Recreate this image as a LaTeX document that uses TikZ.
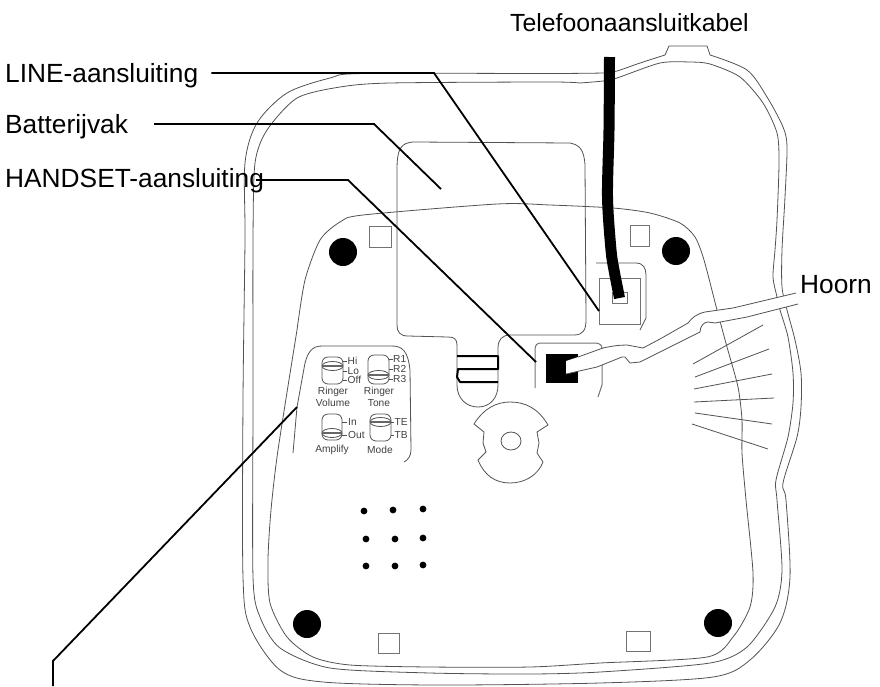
\documentclass[tikz,border=0pt]{standalone}
\usepackage{fontspec}
\setmainfont{Liberation Sans}
\tikzset{
  thin line/.style={draw=black!68,line width=0.8pt,line join=round},
  thick clip/.style={draw=black,line width=2pt,line join=round},
  leader/.style={draw=black,line width=1.8pt,line join=miter},
  label/.style={inner sep=0pt,font=\fontsize{26.3}{28}\selectfont,anchor=base west},
  tiny label/.style={inner sep=0pt,font=\fontsize{10.2}{11}\selectfont,text=black!75},
  foot/.style={fill=black,draw=none},
  pad/.style={draw=black!55,line width=1pt},
  grille/.style={fill=black,draw=none}
}
\newcommand{\drum}[5]{% x1,y1,x2,y2,disc y
  \draw[thin line,rounded corners=6pt] (#1,#2) rectangle (#3,#4);
  \draw[thin line] ({(#1+#3)/2},#5) ellipse ({(#3-#1)/2} and 4.5);
  \draw[draw=black!60,line width=1.5pt] (#1+1,#5) -- (#3-1,#5);
}
\begin{document}
\begin{tikzpicture}[x=1pt,y=-1pt]
\useasboundingbox (0,0) rectangle (880,686);
% outer shell
\draw[thin line] plot[smooth,tension=0.45] coordinates {(604,73)(617,71)(640,63)(665,55)}
  -- (669,46) -- (707,46) -- (710,55)
  plot[smooth,tension=0.5] coordinates {(710,55)(747,70)(767,97)(783,127)(787,147)(785,197)(782,250)(782,287)(787,310)(795,340)(801,373)(801,407)(797,437)(783,483)(786,500)(790,577)(780,623)(750,660)(713,677)(600,683)(437,685)(323,682)(280,670)(250,627)(243,577)(243,400)(245,240)(245,163)(257,123)(287,93)(330,78)(363,73.5)(550,73.5)(604,73)};
% second shell
\draw[thin line] plot[smooth,tension=0.45] coordinates {(580,83)(603,81)(617,78)(660,63)(690,62)(710,64)(740,77)(763,103)(777,133)(779,163)(777,220)(775,250)(773,277)(777,297)(780,310)(788,337)(793,373)(793,403)(788,437)(776,480)(777,500)(782,570)(775,607)(747,647)(710,663)(600,672)(530,674)(430,673)(330,668)(280,648)(260,617)(253,577)(253,400)(253,240)(255,163)(267,130)(297,98)(340,87)(390,83)(550,82)(580,83)};
% plate
\draw[thin line] plot[smooth,tension=0.45] coordinates {(297,330)(305,280)(320,240)(340,222)(363,215)(497,204)(550,205)(613,208)(650,213)(680,223)(695,237)(704,260)(717,310)(727,347)(738,387)(742,420)(742,453)(746,500)(753,573)(750,607)(733,637)(707,657)(600,663)(530,667)(430,667)(350,665)(313,657)(287,637)(270,603)(268,560)(271,510)(278,450)(297,330)};
% battery compartment and slot
\draw[thin line] (397,170) .. controls (397,150) and (400,142) .. (415,142) -- (570,143)
  .. controls (580,145) and (584,150) .. (585,165) -- (586,320)
  .. controls (586,330) and (583,335) .. (574,335) -- (510,335)
  .. controls (502,335) and (498,340) .. (498,348) -- (498,385)
  .. controls (498,398) and (490,407) .. (478,407)
  .. controls (466,407) and (457,398) .. (457,385) -- (457,345)
  .. controls (457,339) and (454,337) .. (448,337) -- (408,336)
  .. controls (400,336) and (397,332) .. (397,325) -- cycle;
\draw[thick clip] (457,356) -- (498,356) -- (498,369) -- (458,369) -- (457,377) -- (460,382) -- (498,382);
% centre catch
\draw[thin line] (474,424) .. controls (484,408) and (497,402) .. (510,402) .. controls (525,402) and (538,408) .. (548,425)
  -- (537,432) -- (539,443) -- (537,453) -- (543,462)
  .. controls (538,475) and (525,483) .. (510,483) .. controls (495,483) and (484,475) .. (478,460)
  -- (486,452) -- (483,443) -- (484,432) -- cycle;
\draw[thin line] (511,441) ellipse (10 and 9);
% rays
\foreach \a/\b/\c/\d in {693/364/763/325,695/377/769/349,694/389/772/374,694/402/774/398,695/413/772/424,692/424/768/449}
  \draw[thin line] (\a,\b) -- (\c,\d);
% handset socket
\draw[draw=black!55,line width=1pt] (535,388) -- (535,350) .. controls (535,345) and (537,343) .. (541,343) -- (595,343) .. controls (599,343) and (602,345) .. (602,348) -- (602,385) -- (598,397);
\fill[black] (546,354) rectangle (578,383);
% line jack
\draw[thin line] (596,263) -- (636,263) .. controls (643,263) and (646,268) .. (646,275) -- (646,318) -- (640,330);
\draw[pad] (599,278) rectangle (640,324);
\draw[pad] (612,292) rectangle (627,303);
% handset cord
\fill[white] (566,361) -- (578,357) -- (603,348) -- (627,345) -- (643,348) -- (660,339) -- (688,323) -- (700,313) -- (717,310) -- (733,308) -- (796,293) -- (798,304) -- (747,317) -- (715,323) -- (708,322) -- (702,325) -- (700,332) -- (660,352) -- (640,362) -- (630,363) -- (625,357) -- (622,357) -- (597,367) -- (566,374) -- cycle;
\draw[thin line] (578,357) -- (603,348) .. controls (612,346) and (620,345) .. (627,345) -- (643,348) -- (660,339) -- (688,323) .. controls (692,318) and (696,314) .. (705,312) -- (733,308) -- (796,293);
\draw[thin line] (566,374) -- (597,367) -- (622,357) -- (625,357) -- (630,363) -- (640,362) -- (660,352) -- (700,332) .. controls (700,326) and (704,322) .. (708,322) .. controls (711,322) and (713,323) .. (715,323) -- (747,317) -- (798,304);
% telephone cable
\draw[line width=11pt,draw=black] plot[smooth,tension=0.5] coordinates {(609.5,57)(609,130)(607.5,197)(611,250)(614,270)(619.5,298)};
% feet
\foreach \p in {(343,252),(676,251),(307,624),(718,623)} \fill[foot] \p circle (14);
% pads
\draw[pad] (369,226) rectangle (391,247);
\draw[pad] (630,225) rectangle (649,246);
\draw[pad] (378,633) rectangle (399,653);
\draw[pad] (626,631) rectangle (650,651);
% grille
\foreach \p in {(364,511),(393,510),(423,509),(366,539),(395,539),(423,538),(366,566),(395,566),(423,565)} \fill[grille] \p circle (3.4);
% control panel
\draw[thin line] (293,453) -- (297,407) -- (305,363) .. controls (308,352) and (312,346) .. (322,346) -- (392,346) .. controls (403,346) and (408,352) .. (410,370) -- (411,450) .. controls (411,456) and (408,460) .. (404,462);
\drum{322}{357}{343}{384}{366}
\drum{368}{355}{389}{384}{375}
\drum{322}{414}{342}{440}{433}
\drum{370}{414}{391}{441}{422}
\foreach \xa/\xb/\y in {343/347/361,343/347/371,343/347/380,389/393/359,389/393/369,389/393/379,342/347/422,342/347/435,391/394/422,391/394/435}
  \draw[thin line] (\xa,\y) -- (\xb,\y);
\node[tiny label,anchor=west] (hi) at (347.5,361) {Hi};
\node[tiny label,anchor=west] (lo) at (347.5,371) {Lo};
\node[tiny label,anchor=west] (off) at (347.5,380) {Off};
\node[tiny label,anchor=west] (r1) at (393,359) {R1};
\node[tiny label,anchor=west] (r2) at (393,369) {R2};
\node[tiny label,anchor=west] (r3) at (393,379) {R3};
\node[tiny label] (rv1) at (333,392) {Ringer};
\node[tiny label] (rv2) at (333,403) {Volume};
\node[tiny label] (rt1) at (379,392) {Ringer};
\node[tiny label] (rt2) at (379,403) {Tone};
\node[tiny label,anchor=west] (in) at (348,422) {In};
\node[tiny label,anchor=west] (out) at (348,435) {Out};
\node[tiny label,anchor=west] (te) at (394.5,422) {TE};
\node[tiny label,anchor=west] (tb) at (394.5,435) {TB};
\node[tiny label] (amp) at (332,450) {Amplify};
\node[tiny label] (mode) at (380,450) {Mode};
% labels
\node[label,font=\fontsize{24.8}{28}\selectfont] (kabel) at (510,31) {Telefoonaansluitkabel};
\node[label] (line) at (5,82) {LINE-aansluiting};
\node[label] (batt) at (5,133) {Batterijvak};
\node[label] (hand) at (5,187) {HANDSET-aansluiting};
\node[label] (hoorn) at (800,293.5) {Hoorn};
% leaders
\coordinate (linec) at (434,73);
\coordinate (linet) at (599,311);
\coordinate (battc) at (374,124);
\coordinate (battt) at (441,189);
\coordinate (handc) at (348,180);
\coordinate (handt) at (536,362);
\coordinate (panelt) at (297,407);
\coordinate (panelc) at (53,661);
\coordinate (panelb) at (53,686);
\draw[leader] ([xshift=13pt]line.east |- linec) -- (linec) -- (linet);
\draw[leader] ([xshift=26pt]batt.east |- battc) -- (battc) -- (battt);
\draw[leader] ([xshift=-8pt]hand.east |- handc) -- (handc) -- (handt);
\draw[leader] (panelt) -- (panelc) -- (panelb);
\end{tikzpicture}
\end{document}
